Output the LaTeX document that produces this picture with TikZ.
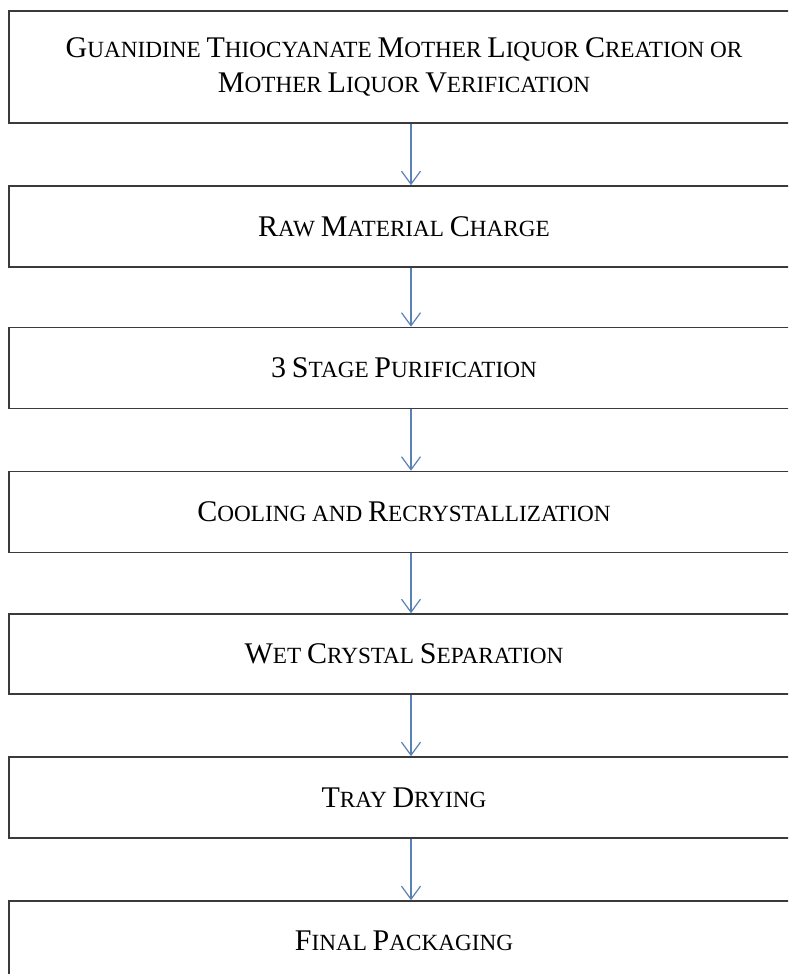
\documentclass[tikz,border=0pt]{standalone}
\usepackage{fontspec}
\setmainfont{Liberation Serif}
\usetikzlibrary{arrows.meta}
\definecolor{boxline}{HTML}{3A3A3A}
\definecolor{arrowblue}{HTML}{5A80B8}
\newcommand\BC[1]{{\fontsize{30}{35}\selectfont #1}}
\tikzset{
  stepbox/.style={draw=boxline, line width=1.6pt, rectangle, minimum width=790pt,
    inner sep=0pt, align=center, font=\fontsize{23.2}{35}\selectfont},
  flow/.style={draw=arrowblue, line width=1.2pt,
    -{Straight Barb[length=13pt,width=19pt,line width=1.2pt]}}
}
\begin{document}
\begin{tikzpicture}[x=1pt,y=-1pt]
\useasboundingbox (0,0) rectangle (788,974);
\clip (0,0) rectangle (788,974);
\fill[white] (0,0) rectangle (788,974);
\node[stepbox, minimum height=112pt] (b1) at (404,67)
  {\BC{G}UANIDINE \BC{T}HIOCYANATE \BC{M}OTHER \BC{L}IQUOR \BC{C}REATION OR\\
   \BC{M}OTHER \BC{L}IQUOR \BC{V}ERIFICATION};
\node[stepbox, minimum height=81pt] (b2) at (404,226.5) {\BC{R}AW \BC{M}ATERIAL \BC{C}HARGE};
\node[stepbox, minimum height=81pt] (b3) at (404,368) {\BC{3} \BC{S}TAGE \BC{P}URIFICATION};
\node[stepbox, minimum height=81pt] (b4) at (404,512) {\BC{C}OOLING AND \BC{R}ECRYSTALLIZATION};
\node[stepbox, minimum height=80pt] (b5) at (404,654) {\BC{W}ET \BC{C}RYSTAL \BC{S}EPARATION};
\node[stepbox, minimum height=81pt] (b6) at (404,797.5) {\BC{T}RAY \BC{D}RYING};
\node[stepbox, minimum height=80pt] (b7) at (404,941) {\BC{F}INAL \BC{P}ACKAGING};
\foreach \a/\b in {b1/b2,b2/b3,b3/b4,b4/b5,b5/b6,b6/b7}
  \draw[flow] ([xshift=7pt]\a.south) -- ([xshift=7pt]\b.north);
\end{tikzpicture}
\end{document}
